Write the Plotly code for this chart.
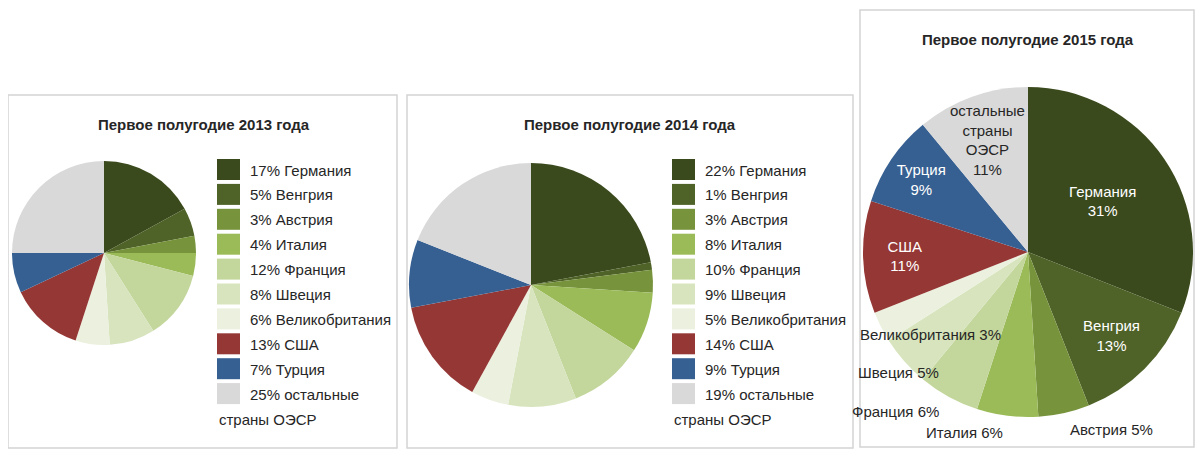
import math
import plotly.graph_objects as go

# Page is rendered with an 8px body margin; work in reference-pixel coordinates and offset.
OFF = 8
W, H = 1187, 442

countries = ["Германия", "Венгрия", "Австрия", "Италия", "Франция", "Швеция",
             "Великобритания", "США", "Турция", "остальные страны ОЭСР"]
colors = ["#3a4a1c", "#4f6228", "#77933c", "#9bbb59", "#c3d69b", "#d7e4bd",
          "#ebf1de", "#953735", "#376092", "#d9d9d9"]

vals_2013 = [17, 5, 3, 4, 12, 8, 6, 13, 7, 25]
vals_2014 = [22, 1, 3, 8, 10, 9, 5, 14, 9, 19]
vals_2015 = [31, 13, 5, 6, 6, 5, 3, 11, 9, 11]

titles = ["Первое полугодие 2013 года", "Первое полугодие 2014 года", "Первое полугодие 2015 года"]

# 2015 label texts
text_2015 = ["Германия<br>%d%%", "Венгрия<br>%d%%", "Австрия %d%%", "Италия %d%%",
             "Франция %d%%", "Швеция %d%%", "Великобритания %d%%", "США<br>%d%%",
             "Турция<br>%d%%", "остальные<br>страны<br>ОЭСР<br>%d%%"]
mode_2015 = ["inside", "inside", "outside", "outside", "outside", "outside", "outside",
             "inside", "inside", "band"]

FONT = "Liberation Sans, Arial, sans-serif"
TXT = "#262626"


def px(x, y):
    return (x - OFF) / W, 1 - (y - OFF) / H


def dom(cx, cy, r):
    x0, y1 = px(cx - r, cy - r)
    x1, y0 = px(cx + r, cy + r)
    return dict(x=[x0, x1], y=[y0, y1])


P1 = (104, 253, 92)
P2 = (531, 285, 122)
P3 = (1028, 252, 165)
BOX3_LEFT = 860

fig = go.Figure()

fig.add_trace(go.Pie(labels=countries, values=vals_2013, sort=False, direction="clockwise",
                     marker=dict(colors=colors, line=dict(width=0)), textinfo="none",
                     hoverinfo="label+percent", showlegend=False, domain=dom(*P1)))
fig.add_trace(go.Pie(labels=countries, values=vals_2014, sort=False, direction="clockwise",
                     marker=dict(colors=colors, line=dict(width=0)), textinfo="none",
                     hoverinfo="label+percent", showlegend=False, domain=dom(*P2)))
fig.add_trace(go.Pie(labels=countries, values=vals_2015, sort=False, direction="clockwise",
                     marker=dict(colors=colors, line=dict(width=0)),
                     text=[t % v for t, v in zip(text_2015, vals_2015)],
                     texttemplate="%{text}",
                     textposition=["inside" if m == "inside" else "none" for m in mode_2015],
                     insidetextorientation="horizontal",
                     insidetextfont=dict(family=FONT, size=15, color="white"),
                     hoverinfo="label+percent", showlegend=False, domain=dom(*P3)))

shapes = []
annotations = []

# labels of 2015 placed from slice geometry
cx, cy, R = P3
total = sum(vals_2015)
cum = 0
for t, v, m in zip(text_2015, vals_2015, mode_2015):
    mid = (cum + v / 2) / total
    cum += v
    if m == "inside":
        continue
    th = 2 * math.pi * mid
    dx, dy = math.sin(th), -math.cos(th)
    txt = t % v
    if m == "band":
        X, Y = cx + 0.72 * R * dx, cy + 0.72 * R * dy
        anchor = "center"
    else:
        X, Y = cx + 1.1 * R * dx, cy + 1.1 * R * dy
        if abs(dx) < 0.5:
            anchor = "left" if dx > 0 else "right"
        else:
            anchor = "center"
            w = 8.0 * len(txt)
            if X - w / 2 < BOX3_LEFT + 2:
                X = BOX3_LEFT + 2 + w / 2
    ax, ay = px(X, Y)
    annotations.append(dict(text=txt, x=ax, y=ay, xref="paper", yref="paper",
                            xanchor=anchor, yanchor="middle", showarrow=False,
                            font=dict(family=FONT, size=15, color=TXT)))

# panel borders
for x0, y0, x1, y1 in [(8, 95, 397, 448), (407, 95, 853, 448), (860, 10, 1194, 447)]:
    a, b = px(x0, y0)
    c, d = px(x1, y1)
    shapes.append(dict(type="rect", xref="paper", yref="paper",
                       x0=a, x1=c, y0=d, y1=b,
                       line=dict(color="#d4d4d4", width=1.5), fillcolor="rgba(0,0,0,0)"))

# titles
for t, (tx, ty) in zip(titles, [(204, 125), (630, 125), (1028, 40)]):
    x, y = px(tx, ty)
    annotations.append(dict(text="<b>%s</b>" % t, x=x, y=y, xref="paper", yref="paper",
                            xanchor="center", yanchor="middle", showarrow=False,
                            font=dict(family=FONT, size=15, color=TXT)))

# legends for 2013 and 2014
short = countries[:-1] + ["остальные"]
for vals, lx in [(vals_2013, 217), (vals_2014, 672)]:
    for i, (name, v, c) in enumerate(zip(short, vals, colors)):
        top = 159 + i * 24.9
        x0, y1 = px(lx, top)
        x1, y0 = px(lx + 23, top + 21)
        shapes.append(dict(type="rect", xref="paper", yref="paper", x0=x0, x1=x1, y0=y0, y1=y1,
                           line=dict(width=0), fillcolor=c))
        tx, ty = px(lx + 31, top + 11)
        annotations.append(dict(text="%d%% %s" % (v, name), x=tx, y=ty, xref="paper", yref="paper",
                                xanchor="left", yanchor="middle", showarrow=False,
                                font=dict(family=FONT, size=15, color=TXT)))
    tx, ty = px(lx, 159 + 10 * 24.9 + 11)
    annotations.append(dict(text="страны ОЭСР", x=tx, y=ty, xref="paper", yref="paper",
                            xanchor="left", yanchor="middle", showarrow=False,
                            font=dict(family=FONT, size=15, color=TXT)))

fig.update_layout(width=W, height=H, margin=dict(l=0, r=0, t=0, b=0),
                  paper_bgcolor="white", plot_bgcolor="white",
                  shapes=shapes, annotations=annotations,
                  font=dict(family=FONT, color=TXT))

fig.write_html("out.html")
